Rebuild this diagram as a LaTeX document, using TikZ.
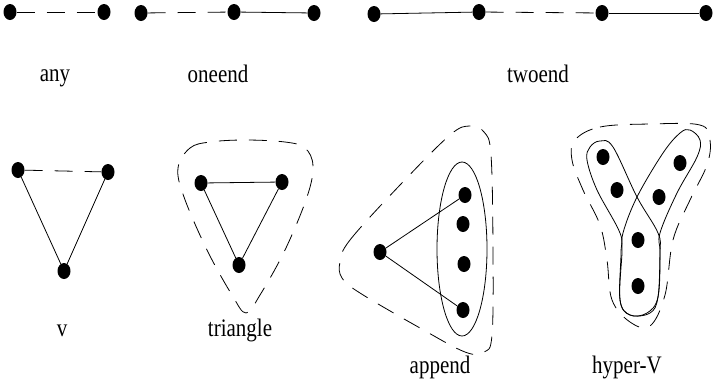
\documentclass[tikz,border=0pt]{standalone}
\usepackage{fontspec}
\usepackage{graphicx}
\setmainfont{Liberation Serif}
\usetikzlibrary{shapes.geometric}
\tikzset{
  dot/.style={ellipse,fill=black,draw=none,minimum width=13pt,minimum height=16pt,inner sep=0pt},
  edge/.style={line width=0.8pt},
  dedge/.style={line width=0.8pt,dash pattern=on 18pt off 12pt},
  hull/.style={line width=0.8pt,dash pattern=on 18pt off 12pt},
  hyper/.style={line width=0.8pt},
  lbl/.style={anchor=base,inner sep=0pt,font=\fontsize{21}{25}\selectfont}
}
\newcommand{\stretchlbl}[1]{\scalebox{1}[1.2]{#1}}
\begin{document}
\begin{tikzpicture}[x=1pt,y=-1pt]
\useasboundingbox (0,0) rectangle (714,389);
% top row
\node[dot] (a1) at (10,12) {};
\node[dot] (a2) at (104,12) {};
\draw[dedge] (a1) -- (a2);
\node[dot] (o1) at (141,13) {};
\node[dot] (o2) at (234,12) {};
\node[dot] (o3) at (314,13) {};
\draw[dedge] (o1) -- (o2);
\draw[edge] (o2) -- (o3);
\node[dot] (t1) at (374,14) {};
\node[dot] (t2) at (479,12) {};
\node[dot] (t3) at (602,13) {};
\node[dot] (t4) at (706,13) {};
\draw[edge] (t1) -- (t2);
\draw[dedge] (t2) -- (t3);
\draw[edge] (t3) -- (t4);
\node[lbl] (lany) at (55,81) {\stretchlbl{any}};
\node[lbl] (lone) at (218,82) {\stretchlbl{oneend}};
\node[lbl] (ltwo) at (538,82) {\stretchlbl{twoend}};
% v
\node[dot] (v1) at (18,170) {};
\node[dot] (v2) at (108,172) {};
\node[dot] (v3) at (64,271) {};
\draw[dedge] (v1) -- (v2);
\draw[edge] (v1) -- (v3);
\draw[edge] (v2) -- (v3);
\node[lbl] (lv) at (62,336) {\stretchlbl{v}};
% triangle
\node[dot] (r1) at (201,183) {};
\node[dot] (r2) at (282,182) {};
\node[dot] (r3) at (239,265) {};
\draw[edge] (r1) -- (r2);
\draw[edge] (r1) -- (r3);
\draw[edge] (r2) -- (r3);
\draw[hull] plot[smooth cycle,tension=0.6] coordinates {(178,168) (190,148) (210,142) (245,140) (285,142) (305,148) (313,166) (307,197) (285,250) (260,295) (246,313) (232,295) (207,250) (184,197)};
\node[lbl] (ltri) at (240,336) {\stretchlbl{triangle}};
% append
\node[dot] (p0) at (380,252) {};
\node[dot] (p1) at (465,195) {};
\node[dot] (p2) at (463,224) {};
\node[dot] (p3) at (464,264) {};
\node[dot] (p4) at (463,310) {};
\draw[edge] (p0) -- (p1);
\draw[edge] (p0) -- (p4);
\draw[hyper] (462,249) ellipse [x radius=25, y radius=87];
\draw[hull] plot[smooth cycle,tension=0.6] coordinates {(340,262) (350,240) (400,185) (450,135) (470,126) (484,132) (491,155) (493,250) (492,335) (484,352) (465,352) (420,328) (360,293) (342,278)};
\node[lbl] (lapp) at (440,373) {\stretchlbl{append}};
% hyper-V
\node[dot] (h1) at (603,157) {};
\node[dot] (h2) at (680,163) {};
\node[dot] (h3) at (617,190) {};
\node[dot] (h4) at (659,197) {};
\node[dot] (h5) at (638,240) {};
\node[dot] (h6) at (638,286) {};
\draw[hyper] plot[smooth cycle,tension=0.6] coordinates {(600,141) (613,147) (637,197) (658,233) (660,253) (658,297) (647,313) (630,315) (620,300) (621,253) (620,233) (597,190) (587,160) (590,147)};
\draw[hyper] plot[smooth cycle,tension=0.6] coordinates {(690,130) (700,140) (697,157) (677,193) (660,233) (660,253) (658,297) (650,313) (630,315) (620,300) (622,253) (623,233) (637,197) (663,153) (680,133)};
\draw[hull] plot[smooth cycle,tension=0.6] coordinates {(575,140) (600,127) (650,124) (700,125) (710,140) (707,165) (690,200) (673,240) (665,295) (650,326) (630,322) (612,300) (607,260) (600,225) (583,190) (572,160)};
\node[lbl] (lhv) at (627,373) {\stretchlbl{hyper-V}};
\end{tikzpicture}
\end{document}
